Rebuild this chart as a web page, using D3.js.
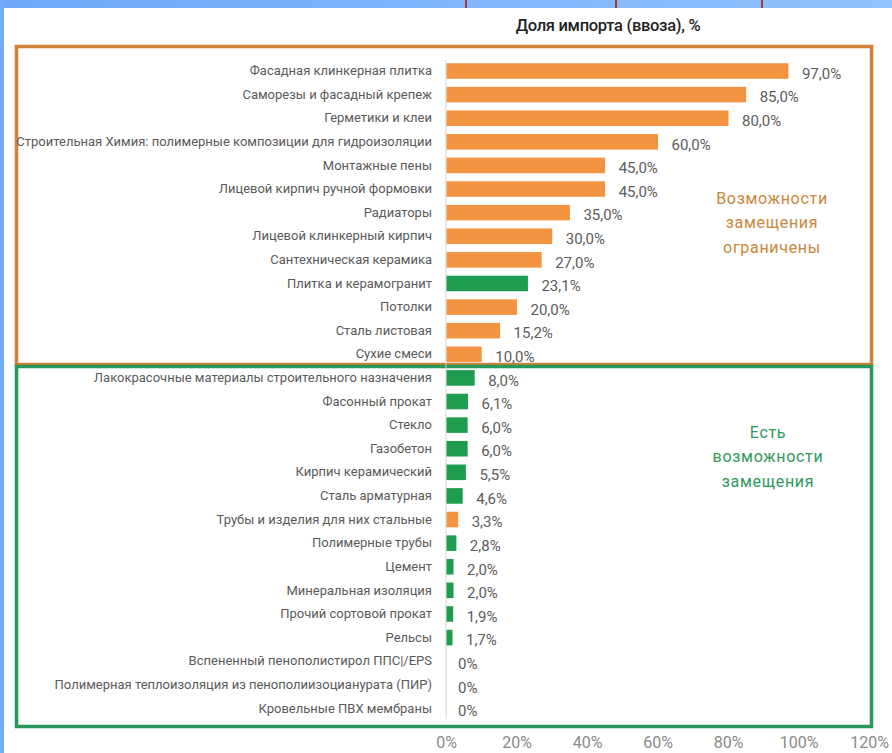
<!DOCTYPE html>
<html><head><meta charset="utf-8">
<script src="https://cdn.jsdelivr.net/npm/d3@7/dist/d3.min.js"></script>
<style>
html,body{margin:0;padding:0;background:#fff;}
svg{display:block;}
</style></head>
<body>
<svg id="chart" width="892" height="753"></svg>
<script>
const categories = [
  "Фасадная клинкерная плитка",
  "Саморезы и фасадный крепеж",
  "Герметики и клеи",
  "Строительная Химия: полимерные  композиции для гидроизоляции",
  "Монтажные пены",
  "Лицевой кирпич ручной формовки",
  "Радиаторы",
  "Лицевой клинкерный  кирпич",
  "Сантехническая керамика",
  "Плитка и керамогранит",
  "Потолки",
  "Сталь листовая",
  "Сухие смеси",
  "Лакокрасочные материалы строительного назначения",
  "Фасонный прокат",
  "Стекло",
  "Газобетон",
  "Кирпич керамический",
  "Сталь арматурная",
  "Трубы и изделия для них стальные",
  "Полимерные трубы",
  "Цемент",
  "Минеральная  изоляция",
  "Прочий сортовой прокат",
  "Рельсы",
  "Вспененный пенополистирол ППС|/EPS",
  "Полимерная теплоизоляция из  пенополиизоцианурата (ПИР)",
  "Кровельные ПВХ мембраны"
];
const values = [97.0, 85.0, 80.0, 60.0, 45.0, 45.0, 35.0, 30.0, 27.0, 23.1, 20.0, 15.2, 10.0,
                8.0, 6.1, 6.0, 6.0, 5.5, 4.6, 3.3, 2.8, 2.0, 2.0, 1.9, 1.7, 0, 0, 0];
// group colour of each bar: "o" = limited substitution (orange), "g" = substitution possible (green)
const barGroup = ["o","o","o","o","o","o","o","o","o","g","o","o","o",
                  "g","g","g","g","g","g","o","g","g","g","g","g","g","g","g"];
const tickValues = [0, 20, 40, 60, 80, 100, 120];
const title = "Доля импорта (ввоза), %";
const noteLimited = ["Возможности", "замещения", "ограничены"];
const notePossible = ["Есть", "возможности", "замещения"];

const colors = { o: "#f39443", g: "#1f9d4f" };
const svg = d3.select("#chart");

// frame of the screenshot
const defs = svg.append("defs");
const grad = defs.append("linearGradient").attr("id", "blueTop").attr("x1", 0).attr("x2", 1);
grad.append("stop").attr("offset", 0).attr("stop-color", "#6ea8f7");
grad.append("stop").attr("offset", 1).attr("stop-color", "#92c3fd");
svg.append("rect").attr("x", 0).attr("y", 0).attr("width", 892).attr("height", 8).attr("fill", "url(#blueTop)");
svg.append("rect").attr("x", 0).attr("y", 0).attr("width", 4).attr("height", 753).attr("fill", "#74acf8");
[465, 615, 761].forEach(x => svg.append("rect").attr("x", x).attr("y", 0).attr("width", 2).attr("height", 8).attr("fill", "#a8353c"));

const x = d3.scaleLinear().domain([0, 120]).range([446, 869]);
const y = d3.scaleBand().domain(categories).range([59.2, 720.2]).paddingInner(0.34).paddingOuter(0.17);

// boxes
svg.append("rect").attr("x", 16.5).attr("y", 46.5).attr("width", 855).attr("height", 318)
  .attr("fill", "none").attr("stroke", "#d18039").attr("stroke-width", 3.5);
svg.append("rect").attr("x", 16.5).attr("y", 366.5).attr("width", 855).attr("height", 360)
  .attr("fill", "none").attr("stroke", "#27995a").attr("stroke-width", 3.5);

// axis line
svg.append("line").attr("x1", x(0)).attr("x2", x(0)).attr("y1", 60).attr("y2", 719)
  .attr("stroke", "#d4d4d4").attr("stroke-width", 1);

// bars
svg.append("g").selectAll("rect").data(categories).join("rect")
  .attr("x", x(0) + 0.5)
  .attr("y", d => y(d))
  .attr("width", (d, i) => Math.max(0, x(values[i]) - x(0)))
  .attr("height", y.bandwidth())
  .attr("fill", (d, i) => colors[barGroup[i]])
  .attr("display", (d, i) => values[i] > 0 ? null : "none");

// value labels
const fmt = v => v > 0 ? v.toFixed(1).replace(".", ",") + "%" : "0%";
svg.append("g").selectAll("text").data(categories).join("text")
  .attr("x", (d, i) => x(values[i]) + (values[i] > 0 ? 14 : 12))
  .attr("y", d => y(d) + y.bandwidth() / 2 + 2.5)
  .attr("dy", "0.35em")
  .attr("font-family", "Roboto, sans-serif").attr("font-size", 15).attr("fill", "#5c5c5c")
  .text((d, i) => fmt(values[i]));

// category axis
const yAxis = svg.append("g").attr("transform", `translate(${x(0)},0)`)
  .call(d3.axisLeft(y).tickSize(0).tickPadding(14));
yAxis.select(".domain").remove();
yAxis.selectAll("text").attr("font-family", "Roboto, sans-serif").attr("font-size", 13).attr("fill", "#5a5a5a");

// x axis
const xAxis = svg.append("g").attr("transform", "translate(0,734)")
  .call(d3.axisBottom(x).tickValues(tickValues).tickSize(0).tickPadding(3).tickFormat(d => d + "%"));
xAxis.select(".domain").remove();
xAxis.selectAll("text").attr("font-family", "Roboto, sans-serif").attr("font-size", 16).attr("fill", "#8a8a8a");

// title
svg.append("text").attr("x", 608).attr("y", 25).attr("dy", "0.35em").attr("text-anchor", "middle")
  .attr("font-family", "Roboto, sans-serif").attr("font-size", 16.5).attr("font-weight", 500)
  .attr("letter-spacing", -0.3).attr("fill", "#222").text(title);

// notes
svg.append("g").selectAll("text").data(noteLimited).join("text")
  .attr("x", 772).attr("y", (d, i) => 198 + i * 24.5).attr("dy", "0.35em").attr("text-anchor", "middle")
  .attr("font-family", "Roboto, sans-serif").attr("font-size", 16).attr("letter-spacing", 0.7)
  .attr("fill", "#c8883c").text(d => d);
svg.append("g").selectAll("text").data(notePossible).join("text")
  .attr("x", 768).attr("y", (d, i) => 432 + i * 24.5).attr("dy", "0.35em").attr("text-anchor", "middle")
  .attr("font-family", "Roboto, sans-serif").attr("font-size", 16).attr("letter-spacing", 0.7)
  .attr("fill", "#2e9a5c").text(d => d);
</script>
</body></html>
